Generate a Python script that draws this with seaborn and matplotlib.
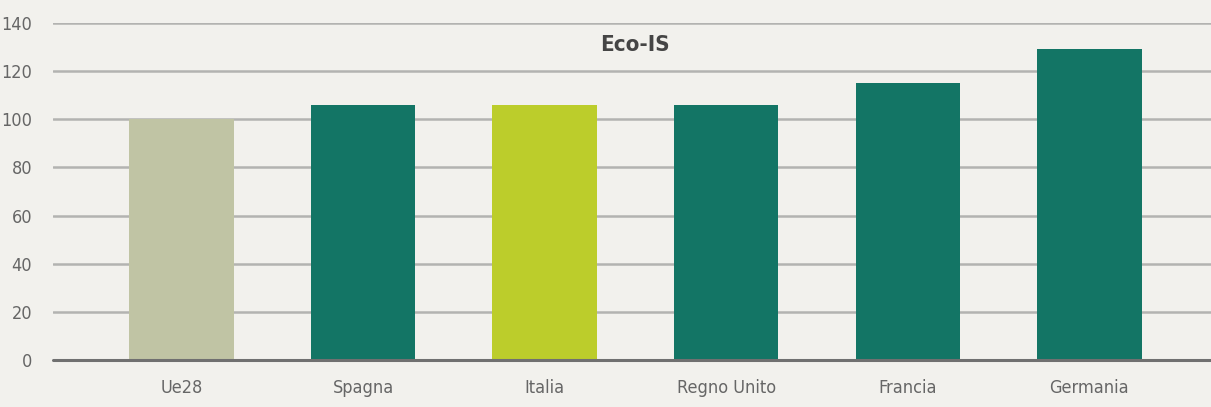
import matplotlib
matplotlib.use("Agg")
import matplotlib.pyplot as plt
import pandas as pd
import seaborn as sns

countries = ["Ue28", "Spagna", "Italia", "Regno Unito", "Francia", "Germania"]
values = [100, 106, 106, 106, 115, 129]
colors = ["#c0c4a4", "#137565", "#bccd2b", "#137565", "#137565", "#137565"]
yticks = [0, 20, 40, 60, 80, 100, 120, 140]

df = pd.DataFrame({"country": countries, "value": values})

sns.set_theme(style="white")
plt.rcParams["font.family"] = ["DejaVu Sans"]
plt.rcParams["font.stretch"] = "condensed"

bg = "#f2f1ed"
fig = plt.figure(figsize=(12.11, 4.07), dpi=100, facecolor=bg)
ax = fig.add_axes([0.0438, 0.1155, 0.9562, 0.828], facecolor=bg)

sns.barplot(data=df, x="country", y="value", hue="country", palette=colors,
            legend=False, width=0.575, saturation=1, linewidth=0,
            edgecolor="none", ax=ax, zorder=3)

ax.set_ylim(0, 140)
ax.set_xlim(-0.707, 5.67)
ax.set_yticks(yticks)
ax.yaxis.grid(True, color="#b3b3b1", linewidth=1.8, zorder=0)
ax.axhline(0, color="#707070", linewidth=2.2, zorder=4, clip_on=False)
for s in ax.spines.values():
    s.set_visible(False)
ax.tick_params(axis="both", length=0, labelsize=13, labelcolor="#666666")
ax.tick_params(axis="y", pad=15)
ax.tick_params(axis="x", pad=14)
ax.set_xlabel("")
ax.set_ylabel("")

ax.text(2.5, 131, "Eco-IS", ha="center", va="center", fontsize=16,
        fontweight="bold", color="#454545")

fig.savefig("out.png", dpi=100, facecolor=bg)
